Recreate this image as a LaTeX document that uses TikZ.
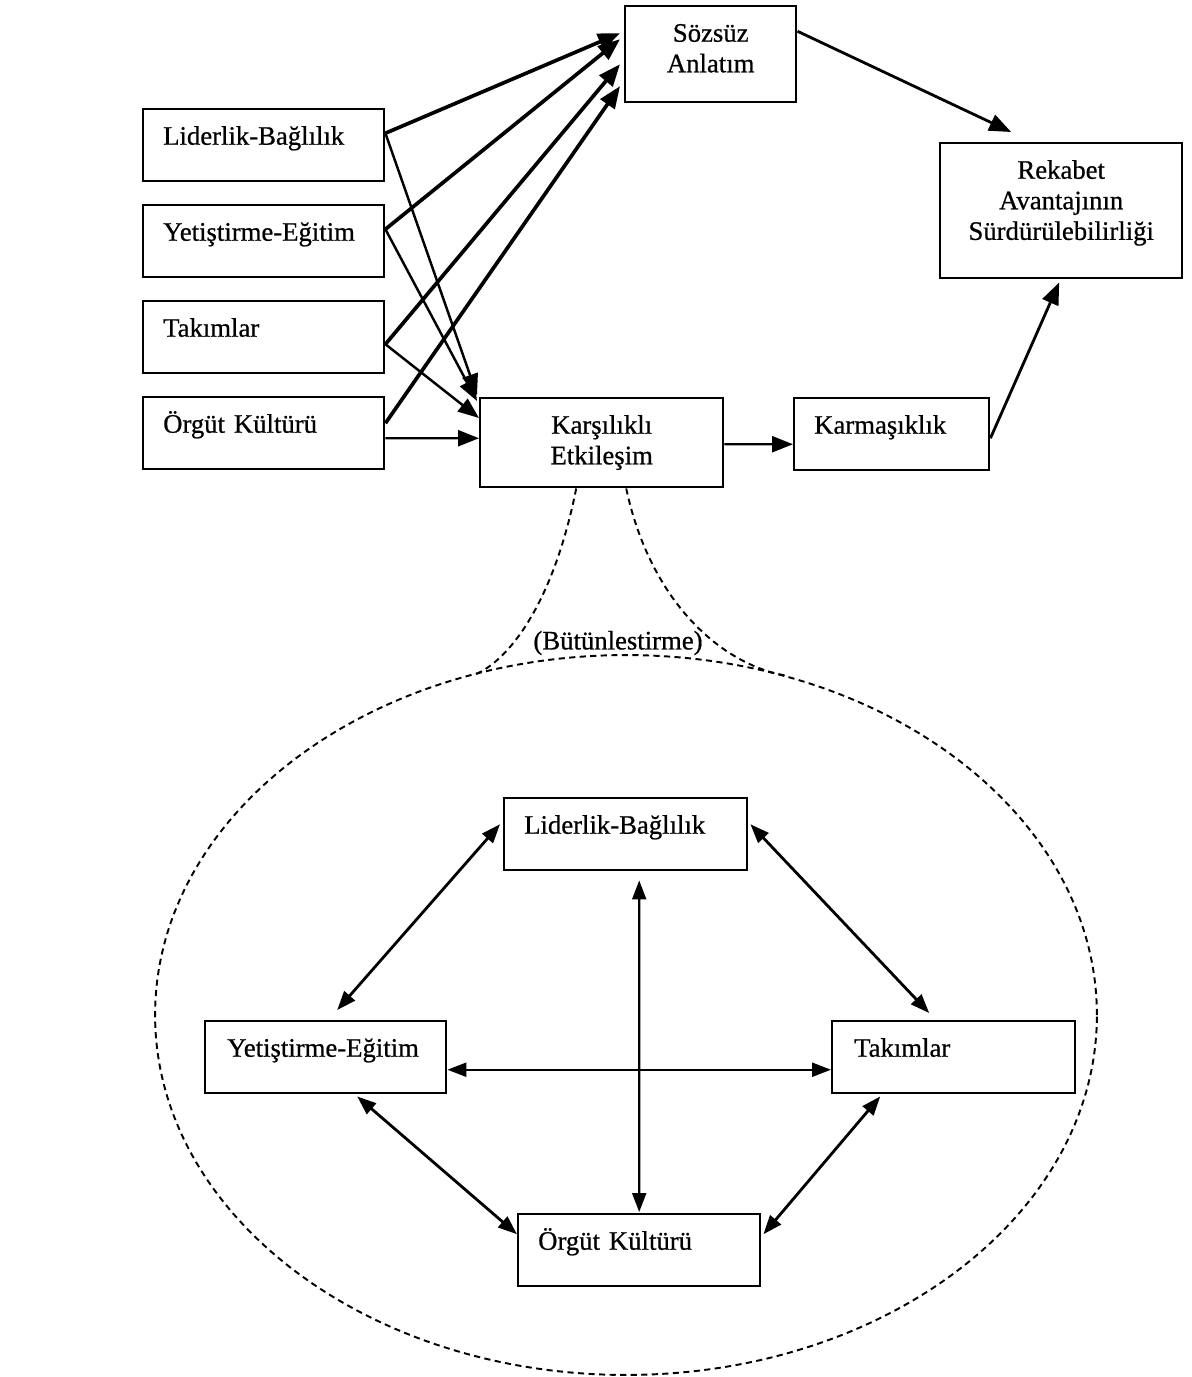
\documentclass[tikz,border=0pt]{standalone}
\usepackage{fontspec}
\setmainfont{Liberation Serif}[UprightFeatures={FakeBold=0.7}]
\usetikzlibrary{arrows.meta}

\begin{document}
\begin{tikzpicture}[x=0.02cm,y=-0.02cm,
  font=\fontsize{15.2}{17.4}\selectfont,
  kutu/.style={draw,line width=1.4pt,anchor=north west,inner ysep=0pt,text height=0.71cm},
  solkutu/.style={kutu,align=left,inner xsep=0.4cm,text depth=0.73cm},
  ortakutu/.style={kutu,align=center,inner xsep=0pt},
  kalin/.style={line width=2.1pt,-{Triangle[length=0.44cm,width=0.34cm]}},
  ince/.style={line width=1.4pt,-{Triangle[length=0.42cm,width=0.32cm]}},
  cift/.style={line width=1.6pt,{Triangle[length=0.38cm,width=0.28cm]}-{Triangle[length=0.38cm,width=0.28cm]}},
  kesik/.style={line width=1.1pt,dash pattern=on 3.5pt off 2.5pt}]
  \useasboundingbox (0,0) rectangle (1192,1377);

  % ust model
  \node[ortakutu,text width=3.42cm,text depth=1.21cm] (sz) at (624,5) {Sözsüz\\Anlatım};
  \node[ortakutu,text width=4.84cm,text depth=1.99cm] (rk) at (939,142) {Rekabet\\Avantajının\\Sürdürülebilirliği};
  \node[solkutu,text width=4.02cm] (ld) at (142,108) {Liderlik-Bağlılık};
  \node[solkutu,text width=4.02cm] (ye) at (142,204) {Yetiştirme-Eğitim};
  \node[solkutu,text width=4.02cm] (tk) at (142,300) {Takımlar};
  \node[solkutu,text width=4.02cm] (og) at (142,396) {Örgüt Kültürü};
  \node[ortakutu,text width=4.86cm,text depth=1.07cm] (kr) at (479,397) {Karşılıklı\\Etkileşim};
  \node[solkutu,text width=3.1cm] (km) at (793,397) {Karmaşıklık};

  % girdiler -> Sözsüz Anlatım
  \draw[kalin] ([yshift=0.24cm]ld.east) -- ([xshift=-0.08cm,yshift=0.42cm]sz.west);
  \draw[kalin] ([yshift=0.24cm]ye.east) -- ([xshift=-0.08cm,yshift=0.30cm]sz.west);
  \draw[kalin] ([yshift=-0.14cm]tk.east) -- ([xshift=-0.08cm,yshift=-0.2cm]sz.west);
  \draw[kalin] ([yshift=0.2cm]og.east) -- ([xshift=-0.08cm,yshift=-0.64cm]sz.west);

  % girdiler -> Karşılıklı Etkileşim
  \draw[ince] ([yshift=0.24cm]ld.east) -- ([xshift=-0.04cm,yshift=0.04cm]kr.north west);
  \draw[ince] ([yshift=0.24cm]ye.east) -- ([xshift=-0.04cm,yshift=-0.08cm]kr.north west);
  \draw[ince] ([yshift=-0.14cm]tk.east) -- ([yshift=-0.42cm]kr.north west);
  \draw[ince] ([yshift=-0.1cm]og.east) -- ([yshift=0.09cm]kr.west);

  \draw[ince] ([yshift=-0.03cm]kr.east) -- ([yshift=-0.2cm]km.west);
  \draw[kalin,line width=1.6pt] ([yshift=0.46cm]sz.east) -- ([xshift=-1cm,yshift=0.2cm]rk.north);
  \draw[kalin,line width=1.6pt] ([yshift=-0.08cm]km.east) -- ([xshift=-0.04cm,yshift=-0.06cm]rk.south);

  % bütünleştirme
  \coordinate (sol) at (476,674);
  \coordinate (sag) at (788,676);
  \draw[kesik] ([xshift=-0.51cm]kr.south) .. controls (552,610) and (505,662) .. (sol);
  \draw[kesik] ([xshift=0.49cm]kr.south) .. controls (650,600) and (720,665) .. (sag);
  \draw[kesik] (626,1015) ellipse [x radius=9.42cm, y radius=7.2cm];
  \node (btl) at (618,643) {(Bütünlestirme)};

  % alt model
  \node[solkutu,text width=4.06cm] (ld2) at (503,797) {Liderlik-Bağlılık};
  \node[solkutu,text width=3.94cm,inner xsep=0.44cm] (ye2) at (204,1020) {Yetiştirme-Eğitim};
  \node[solkutu,text width=3.98cm,inner xsep=0.44cm] (tk2) at (831,1020) {Takımlar};
  \node[solkutu,text width=4.04cm] (og2) at (517,1213) {Örgüt Kültürü};

  \draw[cift] ([xshift=-0.06cm,yshift=0.2cm]ld2.west) -- ([xshift=0.23cm,yshift=0.2cm]ye2.north);
  \draw[cift] ([xshift=0.04cm,yshift=0.2cm]ld2.east) -- ([xshift=-0.49cm,yshift=0.14cm]tk2.north);
  \draw[cift,line width=1.2pt] ([xshift=0.27cm,yshift=-0.18cm]ld2.south) -- ([yshift=0.02cm]og2.north);
  \draw[cift,line width=1.3pt] ([yshift=-0.25cm]ye2.east) -- ([yshift=-0.25cm]tk2.west);
  \draw[cift] ([xshift=0.63cm,yshift=-0.04cm]ye2.south) -- ([yshift=0.32cm]og2.west);
  \draw[cift] ([xshift=-1.47cm,yshift=-0.04cm]tk2.south) -- ([xshift=0.04cm,yshift=0.32cm]og2.east);
\end{tikzpicture}
\end{document}
